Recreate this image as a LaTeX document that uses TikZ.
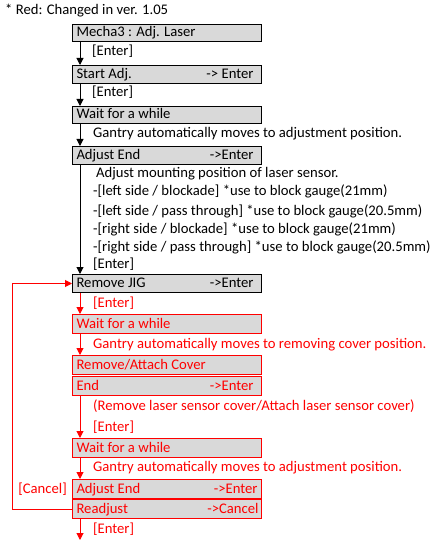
\documentclass[tikz,border=0pt]{standalone}
\usepackage{fontspec}
\setmainfont{Carlito}
\usetikzlibrary{arrows.meta}
\definecolor{boxgray}{HTML}{D9D9D9}
\definecolor{cred}{HTML}{FF0000}
\newcommand{\rowtext}[3]{\makebox[181pt][l]{#1\hfill#2\hspace*{#3}}}
\begin{document}
\begin{tikzpicture}[x=1pt,y=-1pt,font=\fontsize{14.67}{17}\selectfont,
  stepbox/.style={draw,line width=1pt,fill=boxgray,anchor=north west,inner xsep=4pt,inner ysep=0pt,
    minimum width=189pt,text height=11pt,text depth=3pt},
  redbox/.style={stepbox,draw=cred,text=cred},
  lab/.style={anchor=west,inner sep=0pt,text height=11pt,text depth=3pt},
  redlab/.style={lab,text=cred},
  arr/.style={line width=1pt,-{Triangle[width=7pt,length=7pt]}},
  redarr/.style={arr,draw=cred}]
\useasboundingbox (0,0) rectangle (442,545);
\node[lab] (note) at (5,11) {* Red: Changed in ver. 1.05};
% boxes
\node[stepbox,minimum height=17pt] (b1) at (72,24) {\rowtext{Mecha3 : Adj. Laser}{}{0pt}};
\node[stepbox,minimum height=18pt] (b2) at (72,65) {\rowtext{Start Adj.}{-> Enter}{4pt}};
\node[stepbox,minimum height=17pt] (b3) at (72,106) {\rowtext{Wait for a while}{}{0pt}};
\node[stepbox,minimum height=18pt] (b4) at (72,146) {\rowtext{Adjust End}{->Enter}{4pt}};
\node[stepbox,minimum height=18pt] (b5) at (72,274) {\rowtext{Remove JIG}{->Enter}{4pt}};
\node[redbox,minimum height=19pt] (b6) at (72,314) {\rowtext{Wait for a while}{}{0pt}};
\node[redbox,minimum height=19pt] (b7) at (72,355) {\rowtext{Remove/Attach Cover}{}{0pt}};
\node[redbox,minimum height=19pt] (b8) at (72,376) {\rowtext{End}{->Enter}{4pt}};
\node[redbox,minimum height=19pt] (b9) at (72,438) {\rowtext{Wait for a while}{}{0pt}};
\node[redbox,minimum height=19pt] (b10) at (72,479) {\rowtext{Adjust End}{->Enter}{0pt}};
\node[redbox,minimum height=19pt] (b11) at (72,499) {\rowtext{Readjust}{->Cancel}{-1pt}};
\coordinate (endpt) at (80,540);
% labels
\node[lab] (l1) at (92,52) {[Enter]};
\node[lab] (l2) at (92,93) {[Enter]};
\node[lab] (l3) at (93,134) {Gantry automatically moves to adjustment position.};
\node[lab] (l4) at (96,174) {Adjust mounting position of laser sensor.};
\node[lab] (l5) at (93,192) {-[left side / blockade] *use to block gauge(21mm)};
\node[lab] (l6) at (93,211) {-[left side / pass through] *use to block gauge(20.5mm)};
\node[lab] (l7) at (93,229) {-[right side / blockade] *use to block gauge(21mm)};
\node[lab] (l8) at (93,247) {-[right side / pass through] *use to block gauge(20.5mm)};
\node[lab] (l9) at (93,264) {[Enter]};
\node[redlab] (r1) at (93,303) {[Enter]};
\node[redlab] (r2) at (93,344) {Gantry automatically moves to removing cover position.};
\node[redlab] (r3) at (93,406) {(Remove laser sensor cover/Attach laser sensor cover)};
\node[redlab] (r4) at (93,427) {[Enter]};
\node[redlab] (r5) at (93,467) {Gantry automatically moves to adjustment position.};
\node[redlab,anchor=east] (r6) at (67,489) {[Cancel]};
\node[redlab] (r7) at (93,529) {[Enter]};
% arrows
\draw[arr] ([xshift=8pt]b1.south west) -- ([xshift=8pt]b2.north west);
\draw[arr] ([xshift=8pt]b2.south west) -- ([xshift=8pt]b3.north west);
\draw[arr] ([xshift=8pt]b3.south west) -- ([xshift=8pt]b4.north west);
\draw[arr] ([xshift=8pt]b4.south west) -- ([xshift=8pt]b5.north west);
\draw[redarr] ([xshift=8pt]b5.south west) -- ([xshift=8pt]b6.north west);
\draw[redarr] ([xshift=8pt]b6.south west) -- ([xshift=8pt]b7.north west);
\draw[redarr] ([xshift=8pt]b8.south west) -- ([xshift=8pt]b9.north west);
\draw[redarr] ([xshift=8pt]b9.south west) -- ([xshift=8pt]b10.north west);
\draw[redarr] ([xshift=8pt]b11.south west) -- (endpt);
\draw[redarr] (b11.west) -- ++(-60,0) |- (b5.west);
\end{tikzpicture}
\end{document}
